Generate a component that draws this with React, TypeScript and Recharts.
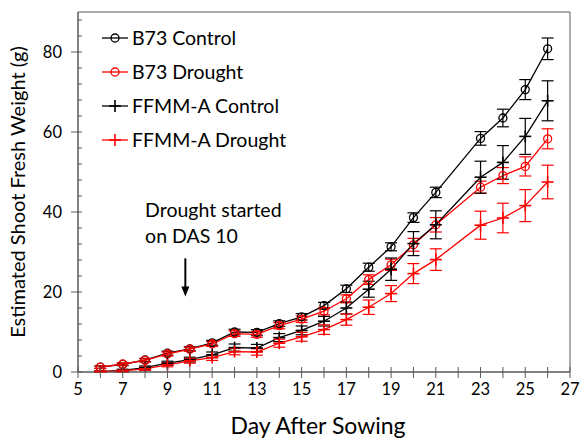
import React from 'react';
import {
  LineChart,
  Line,
  XAxis,
  YAxis,
  ErrorBar,
  ReferenceArea,
  ReferenceDot,
  Legend,
} from 'recharts';

const days = [6, 7, 8, 9, 10, 11, 12, 13, 14, 15, 16, 17, 18, 19, 20, 21, 23, 24, 25, 26];

const b73Control = [1.2, 1.9, 3.0, 4.7, 5.8, 7.3, 10.0, 9.9, 12.1, 13.8, 16.6, 20.8, 26.2, 31.3, 38.6, 44.9, 58.4, 63.5, 70.6, 80.8];
const b73ControlErr = [0.3, 0.3, 0.4, 0.5, 0.5, 0.6, 0.7, 0.7, 0.7, 0.8, 0.8, 0.9, 1.0, 1.0, 1.2, 1.3, 1.7, 2.2, 2.5, 2.7];

const b73Drought = [1.2, 2.0, 2.9, 4.5, 5.7, 7.0, 9.6, 9.4, 11.6, 13.2, 15.2, 18.3, 23.1, 26.8, 31.8, 36.8, 46.2, 49.1, 51.4, 58.3];
const b73DroughtErr = [0.3, 0.3, 0.4, 0.5, 0.5, 0.6, 0.7, 0.7, 0.8, 0.8, 0.9, 1.0, 1.2, 1.4, 1.6, 1.8, 1.5, 2.0, 2.4, 2.5];

const ffmmControl = [0.1, 0.4, 1.1, 2.2, 3.1, 4.3, 6.1, 6.0, 8.6, 10.4, 12.7, 16.0, 20.7, 25.7, 32.1, 36.8, 48.7, 52.4, 58.9, 67.8];
const ffmmControlErr = [0.2, 0.3, 0.4, 0.5, 0.6, 0.7, 0.9, 0.9, 1.0, 1.1, 1.2, 1.5, 2.0, 2.8, 3.0, 3.5, 4.0, 4.2, 4.5, 5.0];

const ffmmDrought = [0.1, 0.3, 0.8, 1.8, 2.8, 3.6, 5.1, 5.0, 7.2, 8.8, 10.6, 13.1, 16.2, 19.6, 24.6, 28.1, 36.7, 38.5, 41.6, 47.5];
const ffmmDroughtErr = [0.2, 0.3, 0.4, 0.5, 0.6, 0.7, 0.8, 0.8, 1.0, 1.1, 1.2, 1.4, 1.8, 2.0, 2.5, 2.7, 3.5, 3.7, 4.0, 4.2];

const seriesNames = ['B73 Control', 'B73 Drought', 'FFMM-A Control', 'FFMM-A Drought'];
const xTicks = [5, 6, 7, 8, 9, 10, 11, 12, 13, 14, 15, 16, 17, 18, 19, 20, 21, 22, 23, 24, 25, 26, 27];
const yTicks = [0, 4, 8, 12, 16, 20, 24, 28, 32, 36, 40, 44, 48, 52, 56, 60, 64, 68, 72, 76, 80, 84, 88];
const annotationLines = ['Drought started', 'on DAS 10'];
const droughtStartDay = 9.8;

const data = days.map((d, i) => ({
  day: d,
  b73c: b73Control[i],
  b73cErr: b73ControlErr[i],
  b73d: b73Drought[i],
  b73dErr: b73DroughtErr[i],
  ffc: ffmmControl[i],
  ffcErr: ffmmControlErr[i],
  ffd: ffmmDrought[i],
  ffdErr: ffmmDroughtErr[i],
}));

const FONT = 'Lato, "Open Sans", sans-serif';
const AXIS = '#595959';
const RED = '#ff0000';
const BLACK = '#000000';

const markerOf: Record<string, string> = { b73c: 'circle', b73d: 'circle', ffc: 'plus', ffd: 'plus' };

const Marker = ({ cx, cy, kind, color }: any) => {
  if (cx == null || cy == null) return null;
  if (kind === 'circle') {
    return <circle cx={cx} cy={cy} r={4} fill="none" stroke={color} strokeWidth={1.3} />;
  }
  return (
    <g>
      <line x1={cx - 6} x2={cx + 6} y1={cy} y2={cy} stroke={color} strokeWidth={1.6} />
      <line x1={cx} x2={cx} y1={cy - 6} y2={cy + 6} stroke={color} strokeWidth={1.6} />
    </g>
  );
};

const makeDot = (kind: string, color: string) => (p: any) => (
  <Marker key={`d-${p.index}`} cx={p.cx} cy={p.cy} kind={kind} color={color} />
);

const XTick = (props: any) => {
  const { x, y, payload } = props;
  const v = payload.value;
  return (
    <g>
      <line x1={x} x2={x} y1={y - 5} y2={y + 6} stroke={AXIS} strokeWidth={1} />
      {v % 2 === 1 && (
        <text x={x} y={y + 23} textAnchor="middle" fontSize={16.5} fontFamily={FONT} fill="#000">
          {v}
        </text>
      )}
    </g>
  );
};

const YTick = (props: any) => {
  const { x, y, payload } = props;
  const v = payload.value;
  const major = v % 20 === 0;
  return (
    <g>
      <line x1={major ? x - 7 : x} x2={x + 4} y1={y} y2={y} stroke={AXIS} strokeWidth={1} />
      {major && (
        <text x={x - 16} y={y} dy="0.36em" textAnchor="end" fontSize={16.5} fontFamily={FONT} fill="#000">
          {v}
        </text>
      )}
    </g>
  );
};

const LegendContent = (props: any) => {
  const { payload } = props;
  return (
    <div style={{ fontFamily: FONT, fontSize: 19.5, color: '#000' }}>
      {(payload || []).map((entry: any, i: number) => (
        <div key={i} style={{ height: 34, display: 'flex', alignItems: 'center' }}>
          <svg width={28} height={20} style={{ display: 'block' }}>
            <line x1={1} x2={27} y1={10} y2={10} stroke={entry.color} strokeWidth={1.3} />
            <Marker cx={14} cy={10} kind={markerOf[entry.dataKey]} color={entry.color} />
          </svg>
          <span style={{ marginLeft: 3, lineHeight: '20px', whiteSpace: 'nowrap' }}>{entry.value}</span>
        </div>
      ))}
    </div>
  );
};

const AnnotationShape = (p: any) => {
  const { cx, cy } = p;
  return (
    <g>
      {annotationLines.map((t, i) => (
        <text key={i} x={cx} y={cy + i * 26} fontSize={19.5} fontFamily={FONT} fill="#000">
          {t}
        </text>
      ))}
    </g>
  );
};

const ArrowShape = (p: any) => {
  const { cx, cy } = p;
  return (
    <g>
      <line x1={cx} x2={cx} y1={cy - 38} y2={cy - 8} stroke="#000" strokeWidth={2} />
      <polygon points={`${cx - 4},${cy - 10} ${cx + 4},${cy - 10} ${cx},${cy}`} fill="#000" />
    </g>
  );
};

const XTitle = (props: any) => {
  const vb = props.viewBox || { x: 78, y: 372, width: 492, height: 60 };
  return (
    <text x={vb.x + vb.width / 2 - 6} y={vb.y + 62} textAnchor="middle" fontSize={23} fontFamily={FONT} fill="#000">
      Day After Sowing
    </text>
  );
};

const YTitle = (props: any) => {
  const vb = props.viewBox || { x: 18, y: 12, width: 60, height: 360 };
  const cx = vb.x + 0;
  const cy = vb.y + vb.height / 2;
  return (
    <text
      x={cx}
      y={cy}
      dy="0.35em"
      transform={`rotate(-90 ${cx} ${cy})`}
      textAnchor="middle"
      fontSize={20}
      fontFamily={FONT}
      fill="#000"
    >
      Estimated Shoot Fresh Weight (g)
    </text>
  );
};

export default function App() {
  return (
    <div style={{ position: 'absolute', left: 0, top: 0, width: 582, height: 440, background: '#fff' }}>
      <LineChart width={582} height={440} data={data} margin={{ top: 12, right: 12, left: 18, bottom: 8 }}>
        <XAxis
          dataKey="day"
          type="number"
          domain={[5, 27]}
          ticks={xTicks}
          interval={0}
          height={60}
          tickSize={0}
          tickMargin={0}
          tick={<XTick />}
          axisLine={{ stroke: AXIS }}
          tickLine={false}
          label={<XTitle />}
          allowDataOverflow
        />
        <YAxis
          type="number"
          domain={[0, 90]}
          ticks={yTicks}
          interval={0}
          width={60}
          tickSize={0}
          tickMargin={0}
          tick={<YTick />}
          axisLine={{ stroke: AXIS }}
          tickLine={false}
          label={<YTitle />}
          allowDataOverflow
        />
        <ReferenceArea x1={5} x2={27} y1={0} y2={90} fill="none" stroke={AXIS} strokeWidth={1} />
        <Legend
          layout="vertical"
          align="center"
          verticalAlign="middle"
          content={<LegendContent />}
          wrapperStyle={{ left: 101, top: 21, width: 260, height: 140, position: 'absolute' }}
        />
        <Line
          dataKey="b73c"
          name={seriesNames[0]}
          stroke={BLACK}
          strokeWidth={1.3}
          isAnimationActive={false}
          dot={makeDot('circle', BLACK)}
          activeDot={false}
        >
          <ErrorBar dataKey="b73cErr" direction="y" width={6} stroke={BLACK} strokeWidth={1.2} />
        </Line>
        <Line
          dataKey="b73d"
          name={seriesNames[1]}
          stroke={RED}
          strokeWidth={1.3}
          isAnimationActive={false}
          dot={makeDot('circle', RED)}
          activeDot={false}
        >
          <ErrorBar dataKey="b73dErr" direction="y" width={6} stroke={RED} strokeWidth={1.2} />
        </Line>
        <Line
          dataKey="ffc"
          name={seriesNames[2]}
          stroke={BLACK}
          strokeWidth={1.3}
          isAnimationActive={false}
          dot={makeDot('plus', BLACK)}
          activeDot={false}
        >
          <ErrorBar dataKey="ffcErr" direction="y" width={6} stroke={BLACK} strokeWidth={1.2} />
        </Line>
        <Line
          dataKey="ffd"
          name={seriesNames[3]}
          stroke={RED}
          strokeWidth={1.3}
          isAnimationActive={false}
          dot={makeDot('plus', RED)}
          activeDot={false}
        >
          <ErrorBar dataKey="ffdErr" direction="y" width={6} stroke={RED} strokeWidth={1.2} />
        </Line>
        <ReferenceDot x={8} y={38.8} r={0} shape={AnnotationShape} ifOverflow="visible" />
        <ReferenceDot x={droughtStartDay} y={18.9} r={0} shape={ArrowShape} ifOverflow="visible" />
      </LineChart>
    </div>
  );
}
